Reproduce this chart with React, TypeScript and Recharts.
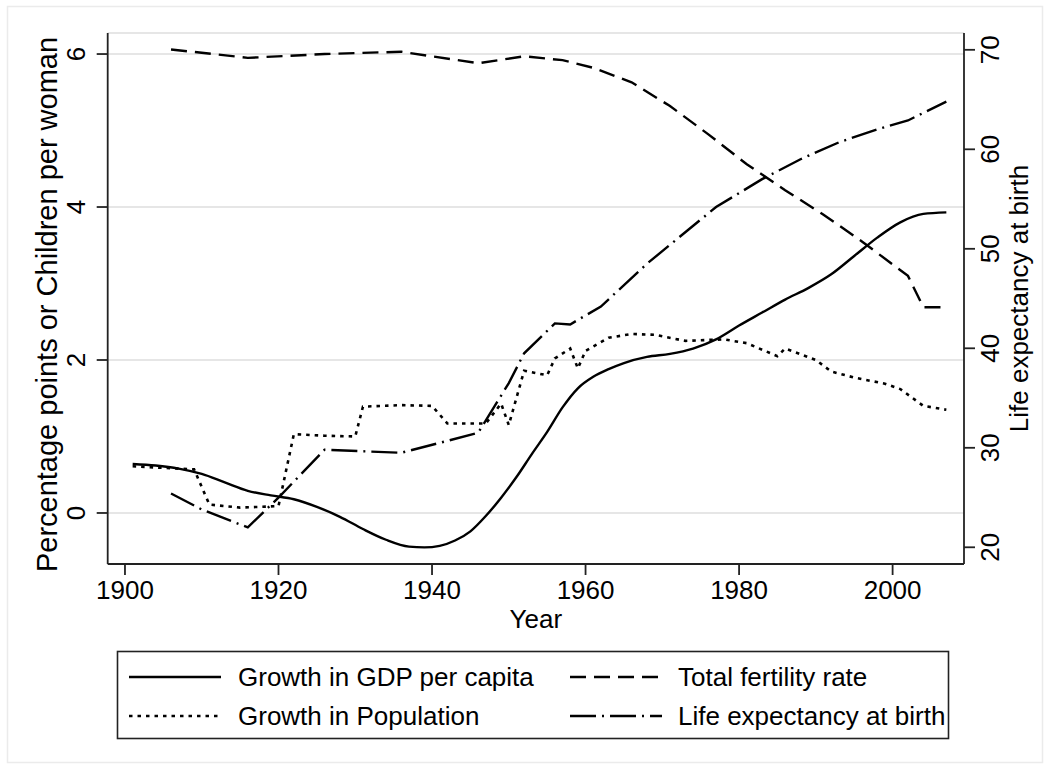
import React from 'react';
import { LineChart, Line, XAxis, YAxis, CartesianGrid } from 'recharts';

const FONT = '"Liberation Sans", Arial, Helvetica, sans-serif';

// ---- Data ----
const gdpYears = [1901, 1904, 1907, 1910, 1913, 1916, 1919, 1922, 1925, 1928, 1931, 1934, 1937, 1939, 1941, 1943, 1945, 1947, 1949, 1951, 1953, 1955, 1957, 1959, 1961, 1963, 1965, 1968, 1971, 1974, 1977, 1980, 1983, 1986, 1989, 1992, 1995, 1998, 2001, 2004, 2007];
const gdpValues = [0.64, 0.62, 0.58, 0.51, 0.40, 0.29, 0.23, 0.18, 0.08, -0.05, -0.21, -0.35, -0.44, -0.45, -0.43, -0.36, -0.24, -0.04, 0.20, 0.47, 0.77, 1.06, 1.38, 1.63, 1.78, 1.88, 1.96, 2.04, 2.08, 2.15, 2.27, 2.45, 2.62, 2.79, 2.94, 3.12, 3.36, 3.60, 3.80, 3.91, 3.93];

const popYears = [1901, 1909, 1911, 1915, 1920, 1922, 1926, 1930, 1931, 1936, 1940, 1942, 1947, 1949, 1950, 1952, 1955, 1956, 1958, 1959, 1960, 1963, 1966, 1969, 1973, 1978, 1981, 1985, 1986, 1990, 1992, 1995, 1999, 2001, 2004, 2007];
const popValues = [0.61, 0.57, 0.11, 0.07, 0.09, 1.03, 1.01, 1.00, 1.39, 1.41, 1.40, 1.17, 1.17, 1.43, 1.15, 1.86, 1.80, 2.02, 2.15, 1.89, 2.12, 2.29, 2.34, 2.33, 2.25, 2.27, 2.22, 2.05, 2.15, 2.00, 1.85, 1.77, 1.69, 1.62, 1.40, 1.35];

const tfrYears = [1906, 1916, 1926, 1936, 1946, 1952, 1957, 1961, 1966, 1971, 1976, 1981, 1986, 1991, 1996, 2002, 2004, 2007];
const tfrValues = [6.06, 5.95, 6.00, 6.03, 5.88, 5.97, 5.92, 5.82, 5.63, 5.32, 4.95, 4.56, 4.22, 3.90, 3.55, 3.10, 2.69, 2.69];

const lifeYears = [1906, 1910, 1916, 1920, 1926, 1936, 1946, 1950, 1952, 1956, 1958, 1962, 1968, 1977, 1983, 1988, 1993, 1998, 2002, 2007];
const lifeValues = [25.4, 23.8, 22.0, 25.0, 29.8, 29.5, 31.5, 36.5, 39.5, 42.5, 42.4, 44.2, 48.5, 54.2, 57.0, 59.0, 60.7, 62.0, 62.9, 64.8];

const xTicks = [1900, 1920, 1940, 1960, 1980, 2000];
const leftTicks = [0, 2, 4, 6];
const rightTicks = [20, 30, 40, 50, 60, 70];

const xTitle = 'Year';
const leftTitle = 'Percentage points or Children per woman';
const rightTitle = 'Life expectancy at birth';

const nameGdp = 'Growth in GDP per capita';
const namePop = 'Growth in Population';
const nameTfr = 'Total fertility rate';
const nameLife = 'Life expectancy at birth';

const toRows = (years: number[], values: number[]) =>
  years.map((year, i) => ({ year, value: values[i] }));

const gdpData = toRows(gdpYears, gdpValues);
const popData = toRows(popYears, popValues);
const tfrData = toRows(tfrYears, tfrValues);
const lifeData = toRows(lifeYears, lifeValues);

// ---- Styles ----
const W = 1050;
const H = 769;
const AXIS = '#222';
const DASH_TFR = '16 8';
const DASH_POP = '3.5 5';
const DASH_LIFE = '26 6 2 6';

const LeftTick = (props: any) => {
  const { x, y, payload } = props;
  return (
    <text x={x} y={y} transform={`rotate(-90 ${x} ${y})`} textAnchor="middle" fontFamily={FONT} fontSize={26} fill="#000">
      {payload.value}
    </text>
  );
};

const RightTick = (props: any) => {
  const { x, y, payload } = props;
  return (
    <text x={x} y={y} transform={`rotate(-90 ${x} ${y})`} textAnchor="middle" fontFamily={FONT} fontSize={26} fill="#000">
      {payload.value}
    </text>
  );
};

const BottomTick = (props: any) => {
  const { x, y, payload } = props;
  return (
    <text x={x} y={y} dy="0.71em" textAnchor="middle" fontFamily={FONT} fontSize={26} fill="#000">
      {payload.value}
    </text>
  );
};

const legendRows = [
  [
    { name: nameGdp, dash: undefined as string | undefined },
    { name: nameTfr, dash: DASH_TFR },
  ],
  [
    { name: namePop, dash: DASH_POP },
    { name: nameLife, dash: DASH_LIFE },
  ],
];

export default function App() {
  return (
    <div style={{ position: 'absolute', left: 0, top: 0, width: W, height: H, background: '#fff' }}>
      <LineChart width={W} height={H} margin={{ top: 33, right: 0, bottom: 145, left: 0 }}>
        <CartesianGrid yAxisId="left" horizontal vertical={false} stroke="#e6e6e6" strokeWidth={2} />
        <XAxis
          dataKey="year"
          type="number"
          domain={[1897.75, 2009.3]}
          allowDataOverflow
          ticks={xTicks}
          tick={<BottomTick />}
          tickSize={11}
          tickMargin={6}
          height={60}
          stroke={AXIS}
          axisLine={{ stroke: AXIS, strokeWidth: 1.8 }}
          tickLine={{ stroke: AXIS, strokeWidth: 1.8 }}
          label={{
            content: (p: any) => {
              const vb = p.viewBox;
              return (
                <text x={vb.x + vb.width / 2} y={vb.y + 64} textAnchor="middle" fontFamily={FONT} fontSize={26} fill="#000">
                  {xTitle}
                </text>
              );
            },
          }}
        />
        <YAxis
          yAxisId="left"
          orientation="left"
          type="number"
          domain={[-0.667, 6.275]}
          allowDataOverflow
          ticks={leftTicks}
          tick={<LeftTick />}
          tickSize={11}
          tickMargin={11.7}
          width={107.7}
          axisLine={{ stroke: AXIS, strokeWidth: 1.8 }}
          tickLine={{ stroke: AXIS, strokeWidth: 1.8 }}
          label={{
            content: (p: any) => {
              const vb = p.viewBox;
              const cx = vb.x + 57;
              const cy = vb.y + vb.height / 2 + 6;
              return (
                <text x={cx} y={cy} transform={`rotate(-90 ${cx} ${cy})`} textAnchor="middle" fontFamily={FONT} fontSize={29} fill="#000">
                  {leftTitle}
                </text>
              );
            },
          }}
        />
        <YAxis
          yAxisId="right"
          orientation="right"
          type="number"
          domain={[18.32, 71.69]}
          allowDataOverflow
          ticks={rightTicks}
          tick={<RightTick />}
          tickSize={11}
          tickMargin={24}
          width={86}
          axisLine={{ stroke: AXIS, strokeWidth: 1.8 }}
          tickLine={{ stroke: AXIS, strokeWidth: 1.8 }}
          label={{
            content: (p: any) => {
              const vb = p.viewBox;
              const cx = vb.x + 64;
              const cy = vb.y + vb.height / 2;
              return (
                <text x={cx} y={cy} transform={`rotate(-90 ${cx} ${cy})`} textAnchor="middle" fontFamily={FONT} fontSize={26} fill="#000">
                  {rightTitle}
                </text>
              );
            },
          }}
        />
        <Line yAxisId="left" data={gdpData} dataKey="value" name={nameGdp} type="monotone" stroke="#000" strokeWidth={2.4} dot={false} activeDot={false} isAnimationActive={false} />
        <Line yAxisId="left" data={popData} dataKey="value" name={namePop} type="linear" stroke="#000" strokeWidth={2.6} strokeDasharray={DASH_POP} dot={false} activeDot={false} isAnimationActive={false} />
        <Line yAxisId="left" data={tfrData} dataKey="value" name={nameTfr} type="linear" stroke="#000" strokeWidth={2.4} strokeDasharray={DASH_TFR} dot={false} activeDot={false} isAnimationActive={false} />
        <Line yAxisId="right" data={lifeData} dataKey="value" name={nameLife} type="linear" stroke="#000" strokeWidth={2.4} strokeDasharray={DASH_LIFE} dot={false} activeDot={false} isAnimationActive={false} />
      </LineChart>
      <svg width={W} height={H} style={{ position: 'absolute', left: 0, top: 0, pointerEvents: 'none' }}>
        <rect x={7.5} y={6.5} width={1035} height={756} fill="none" stroke="#ebebeb" strokeWidth={1.5} />
        <rect x={117.5} y={651.5} width={831} height={87} fill="none" stroke={AXIS} strokeWidth={1.6} />
        {legendRows.map((row, r) =>
          row.map((item, c) => {
            const y = 677 + r * 39;
            const x0 = c === 0 ? 129 : 570;
            const tx = c === 0 ? 238 : 678;
            return (
              <g key={`${r}-${c}`}>
                <line x1={x0} y1={y} x2={x0 + 92} y2={y} stroke="#000" strokeWidth={item.dash === DASH_POP ? 2.6 : 2.4} strokeDasharray={item.dash} />
                <text x={tx} y={y + 9} fontFamily={FONT} fontSize={26} fill="#000">
                  {item.name}
                </text>
              </g>
            );
          })
        )}
      </svg>
    </div>
  );
}
